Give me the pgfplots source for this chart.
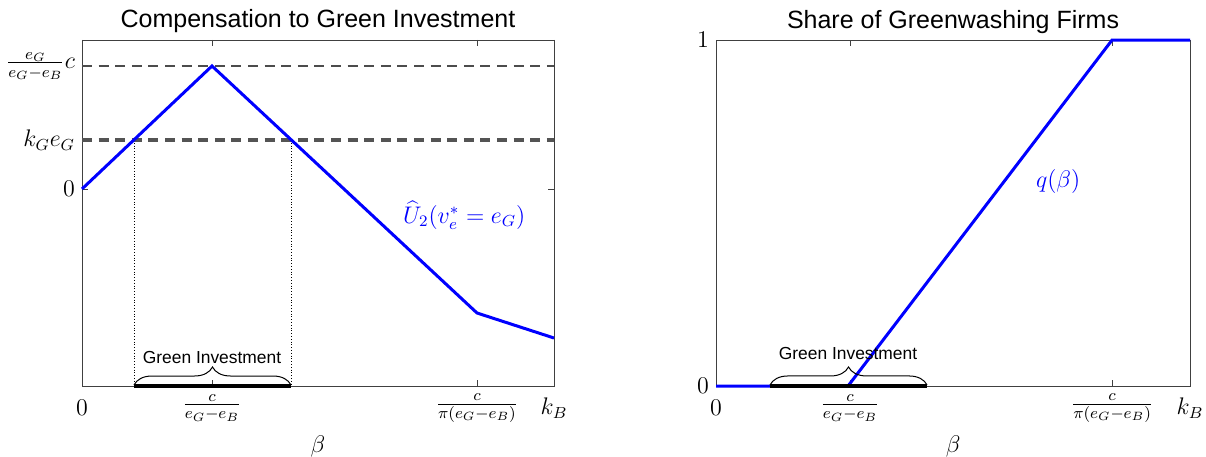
\documentclass[border=0pt]{standalone}
\usepackage{pgfplots}
\pgfplotsset{compat=1.18}
\usepackage{fontspec}
\newfontfamily\sans{Liberation Sans}
\usetikzlibrary{decorations.pathreplacing}
\definecolor{pblue}{RGB}{0,0,255}
\pgfplotsset{mystyle/.style={
  scale only axis, width=236pt, height=173pt,
  axis line style={black!75}, tick style={black!75},
  major tick length=3pt, tick align=inside, clip=false,
  ticklabel style={font=\fontsize{11.5}{13}\selectfont},
  xticklabel style={anchor=center, yshift=-11pt},
  label style={font=\fontsize{12}{14}\selectfont},
  xlabel style={at={(0.5,0)}, anchor=center, yshift=-30pt},
  xlabel={$\beta$},
}}
\begin{document}
\begin{tikzpicture}
\begin{axis}[mystyle, at={(41pt,35pt)}, anchor=south west,
  xmin=0, xmax=472, ymin=0, ymax=346,
  xtick={0,130,395,472},
  xticklabels={$0$,$\frac{c}{e_G-e_B}$,$\frac{c}{\pi(e_G-e_B)}$,$k_B$},
  ytick={197,246,320},
  yticklabels={$0$,$k_Ge_G$,$\frac{e_G}{e_G-e_B}c$},
]
\addplot[black!70, line width=0.8pt, dash pattern=on 5pt off 3.3pt] coordinates {(0,320) (472,320)};
\addplot[black!67, line width=1.6pt, dash pattern=on 5pt off 3.3pt] coordinates {(0,246) (472,246)};
\addplot[black, line width=0.4pt, densely dotted] coordinates {(52,246) (52,0)};
\addplot[black, line width=0.4pt, densely dotted] coordinates {(209,246) (209,0)};
\addplot[pblue, line width=1.5pt] coordinates {(0,197) (130,320) (395,73) (472,48)};
\addplot[black, line width=2pt] coordinates {(52,0) (209,0)};
\draw[decorate, decoration={brace, amplitude=9pt}, line width=0.5pt] (axis cs:52,1) -- (axis cs:209,1);
\node[font=\sans\fontsize{8.7}{10}\selectfont] at (axis cs:130,28) {Green Investment};
\node[pblue, anchor=west, font=\fontsize{11.5}{13}\selectfont] at (axis cs:314,171) {$\widehat{U}_2(v_e^*=e_G)$};
\node[anchor=base, yshift=6pt, font=\sans\fontsize{12.5}{14}\selectfont] at (rel axis cs:0.5,1) {Compensation to Green Investment};
\end{axis}
\begin{axis}[mystyle, at={(358pt,35pt)}, anchor=south west, width=237pt,
  xmin=0, xmax=474, ymin=0, ymax=1,
  xtick={0,134,396,474},
  xticklabels={$0$,$\frac{c}{e_G-e_B}$,$\frac{c}{\pi(e_G-e_B)}$,$k_B$},
  ytick={0,1},
  yticklabels={$0$,$1$},
]
\addplot[pblue, line width=1.5pt] coordinates {(0,0) (132,0) (396,1) (474,1)};
\addplot[black, line width=2pt] coordinates {(54,0) (211,0)};
\draw[decorate, decoration={brace, amplitude=9pt}, line width=0.5pt] (axis cs:54,0.003) -- (axis cs:211,0.003);
\node[font=\sans\fontsize{8.7}{10}\selectfont] at (axis cs:132,0.095) {Green Investment};
\node[pblue, font=\fontsize{11.5}{13}\selectfont] at (axis cs:342,0.59) {$q(\beta)$};
\node[anchor=base, yshift=6pt, font=\sans\fontsize{12.5}{14}\selectfont] at (rel axis cs:0.5,1) {Share of Greenwashing Firms};
\end{axis}
\pgfresetboundingbox
\path (0,0) rectangle (603pt,228pt);
\end{tikzpicture}
\end{document}
